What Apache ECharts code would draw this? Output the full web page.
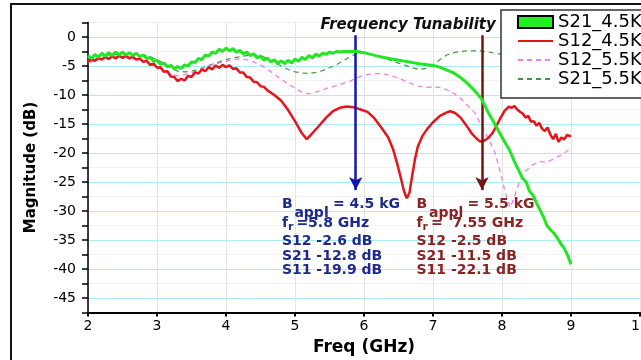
<!DOCTYPE html>
<html><head><meta charset="utf-8">
<script src="https://cdn.jsdelivr.net/npm/echarts@6/dist/echarts.min.js"></script>
<style>html,body{margin:0;padding:0;background:#fff}#c{width:641px;height:360px}</style>
</head><body><div id="c"></div>
<script>
// ---- data ----
const seriesNames = ['S21_4.5K', 'S12_4.5K', 'S12_5.5K', 'S21_5.5K'];
const yTickLabels = [0, -5, -10, -15, -20, -25, -30, -35, -40, -45];
const xTickLabels = [2, 3, 4, 5, 6, 7, 8, 9, 10];

const s21_45 = [[2.00,-3.2],[2.05,-3.7],[2.10,-3.0],[2.15,-3.5],[2.20,-2.8],[2.25,-3.3],[2.30,-2.7],[2.35,-3.2],[2.40,-2.6],[2.45,-3.1],[2.50,-2.6],[2.55,-3.1],[2.60,-2.7],[2.65,-3.2],[2.70,-2.8],[2.75,-3.4],[2.80,-3.1],[2.85,-3.7],[2.90,-3.5],[2.95,-4.2],[3.00,-4.0],[3.05,-4.7],[3.10,-4.5],[3.15,-5.1],[3.20,-4.9],[3.25,-5.5],[3.30,-5.1],[3.35,-5.4],[3.40,-4.8],[3.45,-5.0],[3.50,-4.3],[3.55,-4.4],[3.60,-3.7],[3.65,-3.9],[3.70,-3.1],[3.75,-3.3],[3.80,-2.6],[3.85,-2.8],[3.90,-2.1],[3.95,-2.5],[4.00,-1.9],[4.05,-2.4],[4.10,-2.0],[4.15,-2.6],[4.20,-2.3],[4.25,-2.9],[4.30,-2.6],[4.35,-3.2],[4.40,-2.9],[4.45,-3.6],[4.50,-3.3],[4.55,-4.0],[4.60,-3.6],[4.65,-4.3],[4.70,-3.9],[4.75,-4.6],[4.80,-4.1],[4.85,-4.6],[4.90,-4.0],[4.95,-4.5],[5.00,-3.8],[5.05,-4.2],[5.10,-3.5],[5.15,-3.9],[5.20,-3.2],[5.25,-3.6],[5.30,-3.0],[5.35,-3.3],[5.40,-2.8],[5.45,-3.0],[5.50,-2.6],[5.55,-2.8],[5.60,-2.5],[5.65,-2.6],[5.70,-2.5],[5.80,-2.5],[5.90,-2.5],[6.00,-2.7],[6.20,-3.3],[6.40,-3.8],[6.60,-4.2],[6.80,-4.6],[7.00,-4.9],[7.10,-5.2],[7.20,-5.7],[7.30,-6.2],[7.40,-7.0],[7.50,-8.0],[7.60,-9.2],[7.70,-10.6],[7.80,-13.0],[7.90,-15.1],[8.00,-17.3],[8.10,-19.3],[8.20,-22.0],[8.30,-24.4],[8.35,-25.0],[8.40,-26.6],[8.45,-27.3],[8.50,-28.6],[8.55,-29.8],[8.60,-31.0],[8.65,-32.5],[8.70,-33.2],[8.75,-33.8],[8.80,-34.6],[8.85,-35.6],[8.90,-36.4],[8.95,-37.6],[9.00,-39.2]];

const s12_45 = [[2.00,-4.3],[2.05,-3.8],[2.10,-4.1],[2.15,-3.6],[2.20,-3.9],[2.25,-3.4],[2.30,-3.8],[2.35,-3.3],[2.40,-3.7],[2.45,-3.2],[2.50,-3.6],[2.55,-3.2],[2.60,-3.7],[2.65,-3.4],[2.70,-3.9],[2.75,-3.7],[2.80,-4.3],[2.85,-4.1],[2.90,-4.8],[2.95,-4.6],[3.00,-5.3],[3.05,-5.2],[3.10,-6.0],[3.15,-5.9],[3.20,-6.8],[3.25,-6.9],[3.30,-7.6],[3.35,-7.2],[3.40,-7.5],[3.45,-6.7],[3.50,-6.9],[3.55,-6.1],[3.60,-6.3],[3.65,-5.6],[3.70,-5.9],[3.75,-5.2],[3.80,-5.6],[3.85,-4.9],[3.90,-5.3],[3.95,-4.8],[4.00,-5.2],[4.05,-4.9],[4.10,-5.5],[4.15,-5.4],[4.20,-6.1],[4.25,-6.1],[4.30,-6.9],[4.35,-7.0],[4.40,-7.7],[4.45,-7.8],[4.50,-8.5],[4.55,-8.6],[4.60,-9.2],[4.70,-10.0],[4.80,-11.0],[4.90,-12.6],[5.00,-14.5],[5.10,-16.6],[5.17,-17.6],[5.25,-16.6],[5.35,-15.3],[5.45,-13.9],[5.55,-12.8],[5.65,-12.2],[5.75,-12.0],[5.85,-12.1],[5.95,-12.5],[6.05,-12.9],[6.15,-14.0],[6.25,-15.6],[6.35,-17.3],[6.42,-19.3],[6.48,-21.8],[6.54,-24.6],[6.58,-26.6],[6.62,-27.8],[6.66,-26.8],[6.70,-23.8],[6.74,-21.0],[6.78,-18.9],[6.85,-17.0],[6.92,-15.8],[7.00,-14.7],[7.10,-13.6],[7.20,-13.0],[7.25,-12.8],[7.32,-13.1],[7.40,-13.9],[7.48,-15.2],[7.56,-16.6],[7.63,-17.5],[7.68,-18.0],[7.74,-17.9],[7.80,-17.4],[7.86,-16.6],[7.92,-15.3],[7.98,-13.9],[8.04,-12.7],[8.10,-12.0],[8.14,-12.2],[8.18,-11.9],[8.22,-12.5],[8.26,-12.9],[8.30,-13.2],[8.34,-13.9],[8.38,-13.6],[8.42,-14.6],[8.46,-14.5],[8.50,-15.3],[8.54,-14.8],[8.58,-15.8],[8.62,-16.2],[8.66,-15.6],[8.70,-16.8],[8.74,-17.6],[8.78,-16.7],[8.82,-18.1],[8.86,-17.3],[8.90,-17.7],[8.94,-16.9],[9.00,-17.1]];

const s12_55 = [[2.0,-4.4],[2.2,-3.8],[2.4,-3.5],[2.6,-3.6],[2.8,-4.2],[3.0,-5.2],[3.2,-6.4],[3.3,-6.7],[3.4,-6.5],[3.5,-6.2],[3.6,-5.7],[3.7,-5.2],[3.8,-4.8],[3.9,-4.5],[4.0,-4.2],[4.1,-3.9],[4.2,-3.8],[4.3,-3.9],[4.4,-4.3],[4.5,-4.8],[4.6,-5.6],[4.7,-6.4],[4.8,-7.3],[4.9,-8.1],[5.0,-8.8],[5.1,-9.5],[5.2,-9.8],[5.3,-9.5],[5.4,-9.1],[5.5,-8.7],[5.6,-8.4],[5.7,-8.0],[5.8,-7.6],[5.9,-7.0],[6.0,-6.6],[6.1,-6.4],[6.2,-6.3],[6.3,-6.4],[6.4,-6.7],[6.5,-7.1],[6.6,-7.6],[6.7,-8.1],[6.8,-8.5],[6.9,-8.7],[7.0,-8.6],[7.1,-8.7],[7.2,-9.1],[7.3,-9.7],[7.4,-10.6],[7.5,-11.8],[7.6,-13.0],[7.7,-15.2],[7.8,-17.5],[7.9,-20.0],[8.0,-24.4],[8.05,-27.0],[8.12,-29.4],[8.18,-27.5],[8.25,-25.0],[8.35,-23.0],[8.45,-22.0],[8.55,-21.5],[8.65,-21.6],[8.75,-21.0],[8.85,-20.4],[8.95,-19.6],[9.0,-19.0]];

const s21_55 = [[2.0,-3.7],[2.2,-3.2],[2.4,-3.0],[2.6,-2.9],[2.8,-3.1],[2.9,-3.4],[3.0,-3.9],[3.1,-4.5],[3.2,-5.3],[3.3,-5.9],[3.4,-6.0],[3.5,-5.9],[3.6,-5.6],[3.7,-5.1],[3.8,-4.7],[3.9,-4.3],[4.0,-3.9],[4.1,-3.6],[4.2,-3.4],[4.3,-3.2],[4.4,-3.1],[4.5,-3.2],[4.6,-3.7],[4.7,-4.4],[4.8,-5.0],[4.9,-5.6],[5.0,-6.0],[5.1,-6.2],[5.2,-6.3],[5.3,-6.1],[5.4,-5.8],[5.5,-5.3],[5.6,-4.8],[5.7,-4.1],[5.8,-3.4],[5.9,-2.9],[6.0,-2.7],[6.1,-3.0],[6.2,-3.3],[6.3,-3.7],[6.4,-4.1],[6.5,-4.5],[6.6,-4.9],[6.7,-5.3],[6.8,-5.6],[6.9,-5.4],[7.0,-4.8],[7.1,-3.9],[7.2,-3.1],[7.3,-2.7],[7.4,-2.5],[7.5,-2.4],[7.6,-2.4],[7.7,-2.4],[7.8,-2.6],[7.9,-2.8],[8.0,-3.0],[8.2,-3.3],[8.5,-3.5],[8.8,-3.6],[9.0,-3.8]];

// annotations
const arrowFreqs = [5.88, 7.71];
const arrowTop = 0.3, arrowTip = -26.4;
const titleNote = 'Frequency Tunability';
const titleAnchor = [6.64, 2.1];
const blockAnchors = [[4.81, -28.8], [6.76, -28.8]];
const blockB = ['= 4.5 kG', '= 5.5 kG'];
const blockFr = ['=5.8 GHz', '=  7.55 GHz'];
const blockRows = [['S12 -2.6 dB', 'S21 -12.8 dB', 'S11 -19.9 dB'], ['S12 -2.5 dB', 'S21 -11.5 dB', 'S11 -22.1 dB']];
const blockColors = ['#1c2a8f', '#8b2222'];
const arrowColors = ['#1414b4', '#7a1212'];

const FONT = '"DejaVu Sans", sans-serif';
const chart = echarts.init(document.getElementById('c'));
const hideSym = { opacity: 0, borderWidth: 0 };

chart.setOption({
  animation: false,
  backgroundColor: '#fff',
  grid: { left: 88, right: 1, top: 22.5, bottom: 47.5, outerBoundsMode: 'none', containLabel: false },
  xAxis: {
    type: 'value', min: 2, max: 10, interval: 1,
    name: 'Freq (GHz)', nameLocation: 'middle', nameGap: 27,
    nameTextStyle: { fontFamily: FONT, fontWeight: 'bold', fontSize: 17, color: '#000' },
    axisLine: { onZero: false, lineStyle: { color: '#000', width: 2 } },
    axisTick: { inside: false, length: 4, lineStyle: { color: '#000', width: 2 } },
    axisLabel: { fontFamily: FONT, fontSize: 14, color: '#000', margin: 7, showMaxLabel: true },
    splitLine: { show: true, lineStyle: { color: '#e4e4e4', width: 1 } }
  },
  yAxis: {
    type: 'value', min: -47.5, max: 2.5, interval: 2.5,
    name: 'Magnitude (dB)', nameLocation: 'middle', nameGap: 49,
    nameTextStyle: { fontFamily: FONT, fontWeight: 'bold', fontSize: 15, color: '#000' },
    axisLine: { show: true, lineStyle: { color: '#000', width: 1.5 } },
    axisTick: { show: true, length: 6, lineStyle: { color: '#000', width: 1.5 } },
    axisLabel: {
      fontFamily: FONT, fontSize: 14, color: '#000', margin: 12,
      formatter: v => (yTickLabels.indexOf(Math.round(v * 10) / 10) >= 0 ? String(v) : '')
    },
    splitLine: { show: true, lineStyle: { color: ['#f2f2f2', '#a8eef2'], width: 1 } }
  },
  legend: {
    orient: 'vertical', left: 501, top: 10,
    backgroundColor: '#fff', borderColor: '#333', borderWidth: 1.5,
    padding: [3, 10, 10, 16], itemGap: 1, itemWidth: 35, itemHeight: 12,
    textStyle: { fontFamily: FONT, fontSize: 18, color: '#000', lineHeight: 18 },
    data: [
      { name: seriesNames[0], icon: 'rect', itemStyle: { color: '#22ee22', borderColor: '#000', borderWidth: 2 } },
      { name: seriesNames[1], itemStyle: hideSym },
      { name: seriesNames[2], itemStyle: hideSym },
      { name: seriesNames[3], itemStyle: hideSym }
    ]
  },
  series: [
    { name: seriesNames[3], type: 'line', data: s21_55, symbol: 'none', z: 2,
      lineStyle: { color: '#3e9a3e', width: 1.2, type: [5, 4] }, itemStyle: { color: '#3e9a3e' } },
    { name: seriesNames[2], type: 'line', data: s12_55, symbol: 'none', z: 3,
      lineStyle: { color: '#ee7ee8', width: 1.3, type: [5, 4] }, itemStyle: { color: '#ee7ee8' } },
    { name: seriesNames[1], type: 'line', data: s12_45, symbol: 'none', z: 4,
      lineStyle: { color: '#e8141c', width: 2.5 }, itemStyle: { color: '#e8141c' } },
    { name: seriesNames[0], type: 'line', data: s21_45, symbol: 'none', z: 5,
      lineStyle: { color: '#22e622', width: 3 }, itemStyle: { color: '#22e622' },
      markLine: {
        silent: true, animation: false, symbolSize: [10, 13], label: { show: false },
        data: arrowFreqs.map((f, i) => [
          { coord: [f, arrowTop], symbol: 'none', lineStyle: { color: arrowColors[i], width: 2.5, type: 'solid' } },
          { coord: [f, arrowTip], symbol: 'arrow' }
        ])
      }
    }
  ]
});

// text annotations positioned from data-space anchors
const g = [];
g.push({ type: 'rect', shape: { x: 11, y: 4, width: 700, height: 420 }, style: { fill: 'none', stroke: '#111', lineWidth: 2 }, z: 100, silent: true });
const tp = chart.convertToPixel({ gridIndex: 0 }, titleAnchor);
g.push({ type: 'text', x: tp[0], y: tp[1], z: 50, style: { text: titleNote, fill: '#111', font: 'italic bold 15px ' + FONT, align: 'center', verticalAlign: 'middle' } });
blockAnchors.forEach((a, i) => {
  const p = chart.convertToPixel({ gridIndex: 0 }, a);
  const col = blockColors[i];
  const f = 'bold 14px ' + FONT;
  const t = (x, y, s, font) => g.push({ type: 'text', x: x, y: y, z: 50, style: { text: s, fill: col, font: font || f, align: 'left', verticalAlign: 'middle' } });
  t(p[0], p[1], 'B');
  t(p[0] + 12.5, p[1] + 9.5, 'appl');
  t(p[0] + 51, p[1], blockB[i]);
  t(p[0], p[1] + 19, 'f');
  t(p[0] + 6, p[1] + 23.5, 'r', 'bold 11px ' + FONT);
  t(p[0] + 14.5, p[1] + 19, blockFr[i]);
  blockRows[i].forEach((r, k) => t(p[0], p[1] + [37, 52, 66.7][k], r));
});
chart.setOption({ graphic: g });
</script></body></html>
